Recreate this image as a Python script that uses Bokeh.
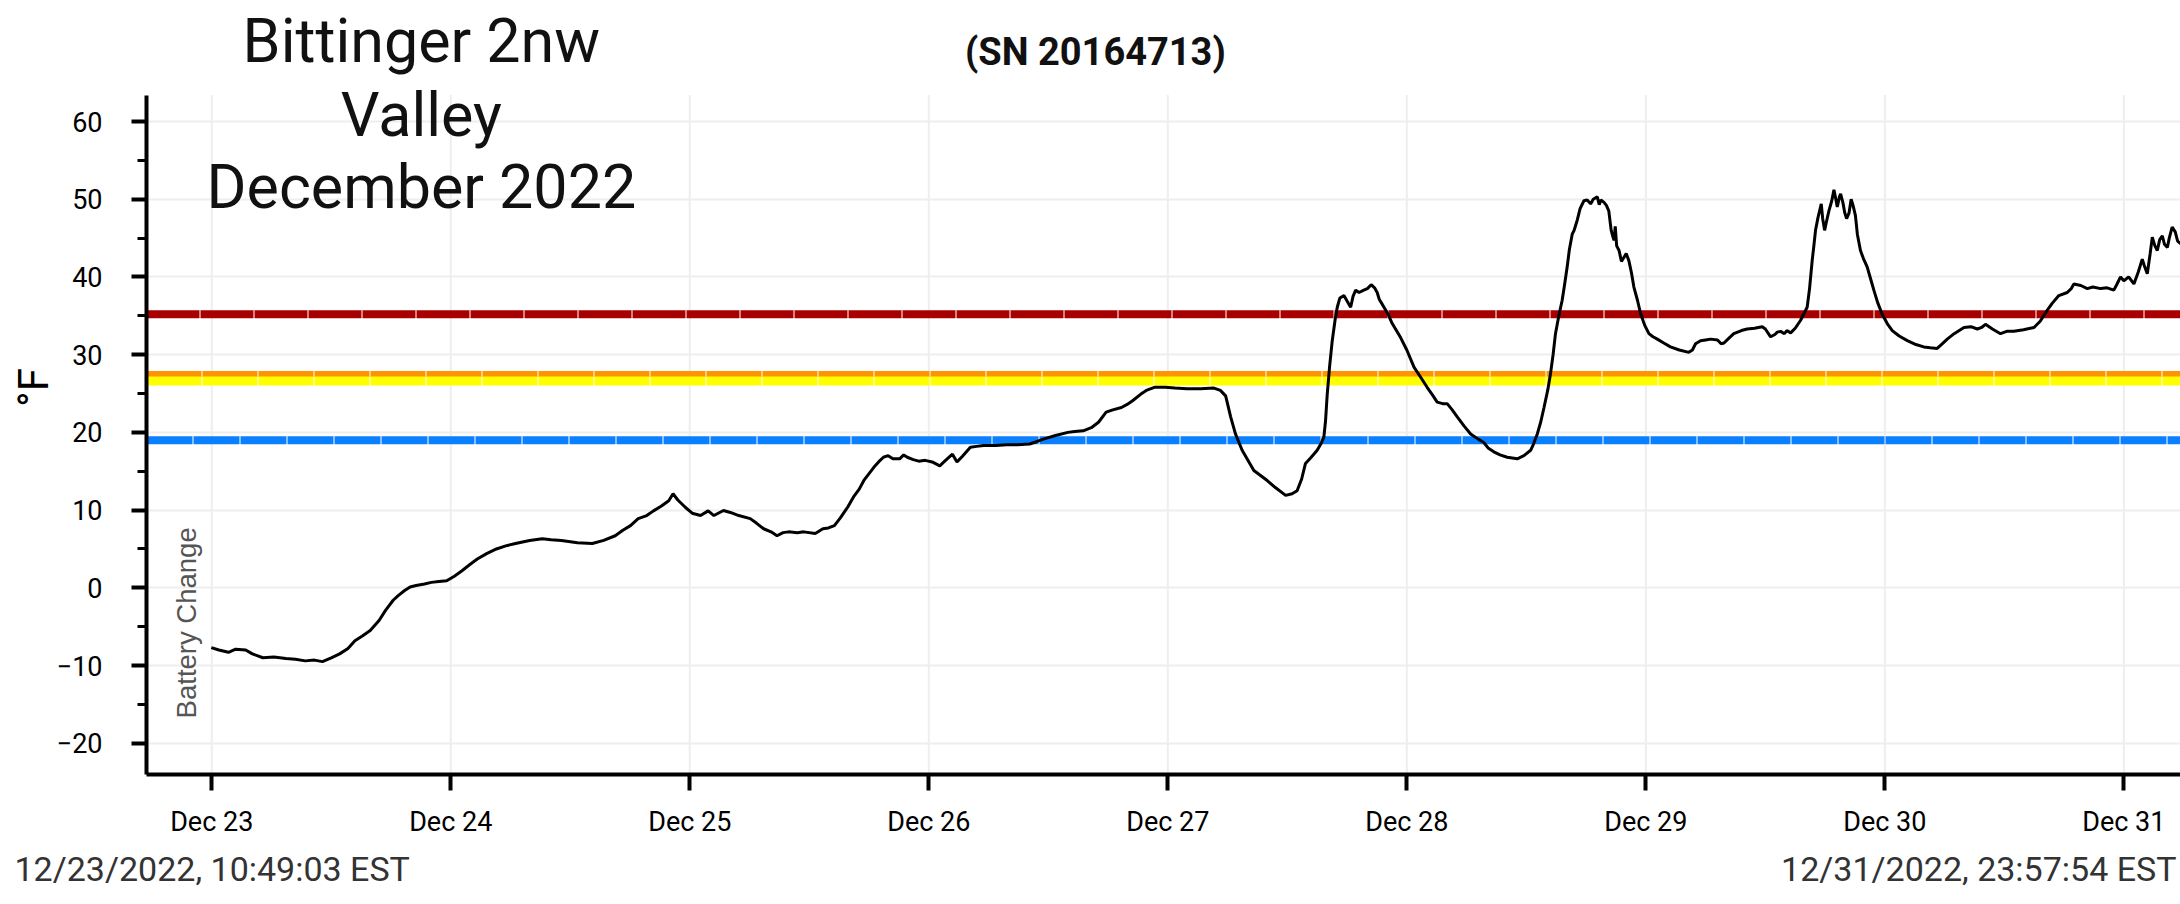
import math
from bokeh.plotting import figure
from bokeh.layouts import column
from bokeh.models import Range1d, FixedTicker, Span, Label
from bokeh.embed import file_html
from bokeh.resources import INLINE

# ---- data (day of December 2022, temperature in °F) ----
days = [22.998, 23.03, 23.07, 23.10, 23.142, 23.17, 23.214, 23.26, 23.31, 23.35, 23.391, 23.43, 23.463, 23.50,
        23.535, 23.57, 23.599, 23.63, 23.663, 23.70, 23.727, 23.759, 23.78, 23.807, 23.83, 23.855, 23.89, 23.919,
        23.95, 23.983, 24.015, 24.047, 24.08, 24.111, 24.15, 24.191, 24.23, 24.271, 24.33, 24.383, 24.42, 24.463,
        24.53, 24.592, 24.64, 24.688, 24.72, 24.752, 24.784, 24.82, 24.848, 24.88, 24.912, 24.93, 24.95, 24.98,
        25.01, 25.045, 25.077, 25.101, 25.141, 25.17, 25.205, 25.253, 25.28, 25.309, 25.34, 25.365, 25.39, 25.413,
        25.45, 25.477, 25.525, 25.557, 25.58, 25.605, 25.63, 25.661, 25.685, 25.709, 25.73, 25.750, 25.77, 25.790,
        25.81, 25.830, 25.85, 25.878, 25.895, 25.910, 25.935, 25.958, 25.985, 26.014, 26.046, 26.07, 26.099, 26.118,
        26.14, 26.174, 26.20, 26.230, 26.28, 26.326, 26.37, 26.422, 26.45, 26.486, 26.53, 26.582, 26.61, 26.646,
        26.68, 26.710, 26.742, 26.77, 26.806, 26.83, 26.854, 26.886, 26.91, 26.944, 26.99, 27.03, 27.08, 27.137,
        27.193, 27.22, 27.242, 27.263, 27.283, 27.311, 27.36, 27.416, 27.45, 27.493, 27.52, 27.541, 27.56, 27.576,
        27.60, 27.625, 27.64, 27.653, 27.66, 27.667, 27.677, 27.688, 27.70, 27.709, 27.72, 27.737, 27.75, 27.765,
        27.775, 27.786, 27.80, 27.820, 27.835, 27.851, 27.865, 27.876, 27.885, 27.897, 27.92, 27.939, 27.974, 28.00,
        28.030, 28.06, 28.085, 28.11, 28.127, 28.15, 28.169, 28.19, 28.211, 28.24, 28.267, 28.30, 28.322, 28.34,
        28.364, 28.39, 28.420, 28.462, 28.49, 28.518, 28.53, 28.546, 28.56, 28.574, 28.59, 28.601, 28.612, 28.622,
        28.636, 28.650, 28.66, 28.671, 28.68, 28.692, 28.70, 28.713, 28.725, 28.741, 28.755, 28.769, 28.78, 28.797,
        28.805, 28.812, 28.825, 28.835, 28.845, 28.855, 28.862, 28.867, 28.872, 28.878, 28.888, 28.898, 28.908,
        28.918, 28.929, 28.94, 28.950, 28.965, 28.978, 28.995, 29.013, 29.03, 29.048, 29.075, 29.103, 29.14, 29.180,
        29.195, 29.208, 29.229, 29.25, 29.271, 29.30, 29.315, 29.327, 29.35, 29.368, 29.40, 29.424, 29.455, 29.487,
        29.50, 29.522, 29.54, 29.55, 29.564, 29.58, 29.59, 29.606, 29.625, 29.647, 29.66, 29.675, 29.685, 29.696,
        29.703, 29.710, 29.72, 29.727, 29.734, 29.74, 29.748, 29.755, 29.766, 29.778, 29.787, 29.795, 29.801, 29.81,
        29.815, 29.825, 29.832, 29.840, 29.85, 29.859, 29.867, 29.877, 29.885, 29.898, 29.91, 29.926, 29.94, 29.954,
        29.97, 29.989, 30.01, 30.031, 30.06, 30.094, 30.13, 30.163, 30.19, 30.219, 30.24, 30.261, 30.29, 30.331,
        30.36, 30.387, 30.405, 30.421, 30.45, 30.484, 30.51, 30.540, 30.58, 30.624, 30.65, 30.679, 30.70, 30.728,
        30.763, 30.78, 30.791, 30.82, 30.847, 30.87, 30.903, 30.93, 30.958, 30.97, 30.986, 31.00, 31.02, 31.042,
        31.06, 31.077, 31.085, 31.098, 31.11, 31.119, 31.13, 31.140, 31.15, 31.161, 31.17, 31.182, 31.19, 31.202,
        31.215, 31.225, 31.237, 31.26]
temps = [-7.7, -8.0, -8.3, -7.9, -8.0, -8.5, -9.0, -8.9, -9.1, -9.2, -9.4, -9.3, -9.5, -9.0,
         -8.5, -7.8, -6.8, -6.2, -5.5, -4.2, -2.9, -1.6, -1.0, -0.35, 0.1, 0.3, 0.5, 0.7,
         0.8, 0.9, 1.5, 2.2, 3.0, 3.7, 4.4, 5.0, 5.4, 5.7, 6.1, 6.3, 6.2, 6.1,
         5.8, 5.7, 6.1, 6.7, 7.4, 8.0, 8.9, 9.3, 9.9, 10.5, 11.2, 12.1, 11.3, 10.4,
         9.6, 9.3, 9.9, 9.3, 9.95, 9.7, 9.3, 8.9, 8.3, 7.6, 7.2, 6.7, 7.1, 7.2,
         7.1, 7.2, 7.0, 7.6, 7.7, 8.0, 9.0, 10.4, 11.7, 12.7, 13.9, 14.7, 15.5, 16.2,
         16.8, 17.0, 16.6, 16.6, 17.1, 16.8, 16.5, 16.3, 16.4, 16.2, 15.7, 16.4, 17.2, 16.2,
         16.9, 18.1, 18.2, 18.3, 18.3, 18.4, 18.4, 18.5, 18.8, 19.2, 19.6, 20.0, 20.1, 20.2,
         20.6, 21.3, 22.6, 22.9, 23.2, 23.6, 24.1, 24.9, 25.4, 25.8, 25.8, 25.7, 25.6, 25.6,
         25.7, 25.4, 24.7, 22.0, 19.8, 17.7, 15.1, 13.8, 12.9, 11.9, 12.1, 12.5, 14.0, 16.0,
         16.8, 17.7, 18.5, 19.4, 21.5, 24.9, 28.5, 31.8, 34.5, 36.1, 37.3, 37.6, 36.9, 36.1,
         37.5, 38.3, 38.0, 38.3, 38.5, 39.0, 38.6, 38.0, 37.1, 36.5, 35.3, 34.0, 32.2, 30.6,
         28.4, 27.0, 25.8, 24.7, 23.9, 23.7, 23.7, 22.9, 22.0, 20.8, 19.8, 19.1, 18.7, 18.0,
         17.5, 17.1, 16.8, 16.6, 17.0, 17.7, 18.5, 19.8, 21.3, 23.2, 25.5, 27.5, 30.0, 32.7,
         35.0, 37.0, 39.0, 41.3, 43.5, 45.5, 46.0, 47.3, 48.8, 49.8, 49.9, 49.4, 50.0, 50.3,
         49.3, 49.9, 49.6, 49.2, 48.5, 46.0, 45.2, 44.7, 46.5, 44.0, 43.4, 42.0, 42.5,
         43.0, 42.1, 40.5, 38.7, 37.0, 35.3, 33.8, 32.7, 32.3, 32.0, 31.5, 31.0, 30.6, 30.3,
         30.6, 31.4, 31.8, 31.9, 32.0, 31.9, 31.4, 31.5, 32.2, 32.7, 33.1, 33.3, 33.4, 33.6,
         33.3, 32.3, 32.6, 32.9, 33.0, 32.7, 33.1, 32.8, 33.4, 34.4, 35.2, 36.1, 38.5, 42.1,
         44.0, 46.0, 47.6, 48.5, 49.4, 47.5, 46.0, 47.0, 48.5, 49.8, 51.2, 50.0, 49.0, 50.3,
         50.7, 49.5, 48.3, 47.5, 48.2, 50.0, 49.2, 47.9, 45.5, 43.4, 42.4, 41.3, 39.8, 38.3,
         36.7, 35.2, 34.0, 33.1, 32.4, 31.8, 31.3, 31.0, 30.9, 30.8, 31.4, 32.0, 32.7, 33.5,
         33.6, 33.3, 33.5, 33.9, 33.3, 32.7, 33.0, 33.0, 33.2, 33.5, 34.3, 35.7, 36.6, 37.6,
         38.0, 38.5, 39.1, 38.9, 38.5, 38.7, 38.5, 38.6, 38.3, 39.0, 40.0, 39.5, 40.0, 39.1,
         40.6, 42.3, 41.5, 40.4, 43.0, 45.1, 44.0, 43.4, 44.8, 45.3, 44.2, 43.8, 45.0, 46.4,
         45.8, 44.6, 44.3, 45.0]

threshold_values = [35.2, 27.5, 26.6, 19.0]
threshold_colors = ["#a80000", "#ff9300", "#ffff00", "#0a80ff"]
threshold_widths = [8, 6, 9, 8]
threshold_dashes = ["53 1", "55 1", "55 1", "46 1"]

x_ticks = [23, 24, 25, 26, 27, 28, 29, 30, 31]
x_tick_labels = ["Dec 23", "Dec 24", "Dec 25", "Dec 26", "Dec 27", "Dec 28", "Dec 29", "Dec 30", "Dec 31"]
y_ticks = [-20, -10, 0, 10, 20, 30, 40, 50, 60]
y_minor = [-25, -15, -5, 5, 15, 25, 35, 45, 55]
y_axis_bounds = (-24.02, 63.4)

title_lines = ["Bittinger 2nw", "Valley", "December 2022"]
serial_text = "(SN 20164713)"
start_text = "12/23/2022, 10:49:03 EST"
end_text = "12/31/2022, 23:57:54 EST"
event_text = "Battery Change"
event_day = 22.893

FONT = "Roboto"

p = figure(width=2180, height=848, output_backend="svg", toolbar_location=None,
           x_range=Range1d(22.727, 31.237), y_range=Range1d(-24.02, 75.57),
           min_border_left=146, min_border_right=0, min_border_top=0, min_border_bottom=74)
p.frame_align = False
p.outline_line_color = None
p.background_fill_color = "white"
p.border_fill_color = "white"

# grids
p.xgrid.visible = False
p.ygrid.ticker = FixedTicker(ticks=y_ticks)
p.ygrid.grid_line_color = "#eeeeee"
p.ygrid.grid_line_width = 2
p.segment(x0=x_ticks, y0=[y_axis_bounds[0]] * len(x_ticks), x1=x_ticks, y1=[y_axis_bounds[1]] * len(x_ticks),
          line_color="#eeeeee", line_width=2, level="underlay")

# x axis
xa = p.xaxis[0]
xa.ticker = FixedTicker(ticks=x_ticks)
xa.major_label_overrides = {t: l for t, l in zip(x_ticks, x_tick_labels)}
xa.axis_line_width = 4
xa.axis_line_color = "black"
xa.major_tick_line_width = 4
xa.major_tick_out = 16
xa.major_tick_in = 0
xa.minor_tick_line_color = None
xa.major_label_text_font = FONT
xa.major_label_text_font_size = "27px"
xa.major_label_text_color = "black"
xa.major_label_standoff = 15

# y axis
ya = p.yaxis[0]
ya.bounds = y_axis_bounds
ya.ticker = FixedTicker(ticks=y_ticks, minor_ticks=y_minor)
ya.axis_line_width = 4
ya.axis_line_color = "black"
ya.major_tick_line_width = 4
ya.major_tick_out = 15
ya.major_tick_in = 0
ya.minor_tick_line_width = 3
ya.minor_tick_out = 9
ya.minor_tick_in = 0
ya.major_label_text_font = FONT
ya.major_label_text_font_size = "27px"
ya.major_label_text_color = "black"
ya.major_label_standoff = 29
ya.axis_label = "°F"
ya.axis_label_text_font = FONT
ya.axis_label_text_font_size = "42px"
ya.axis_label_text_font_style = "normal"
ya.axis_label_text_color = "black"
ya.axis_label_standoff = -4

# threshold lines
for v, c, w, d in zip(threshold_values, threshold_colors, threshold_widths, threshold_dashes):
    p.add_layout(Span(location=v, dimension="width", line_color=c, line_width=w,
                      line_dash=d, level="underlay"))

# temperature trace
p.line(days, temps, line_color="black", line_width=3)

# event marker text
p.add_layout(Label(x=event_day, y=-16.8, text=event_text, angle=math.pi / 2,
                   text_align="left", text_baseline="middle", text_font="Liberation Sans",
                   text_font_size="27.5px", text_color="#555555"))

# title lines
for txt, yy in zip(title_lines, [70.3, 60.9, 51.6]):
    p.add_layout(Label(x=23.877, y=yy, text=txt, text_align="center", text_baseline="alphabetic",
                       text_font=FONT, text_font_size="61px", text_color="#111111"))

p.add_layout(Label(x=26.697, y=69.0, text=serial_text, text_align="center", text_baseline="alphabetic",
                   text_font=FONT, text_font_size="38px", text_font_style="bold", text_color="#111111"))

# footer strip with the first / last timestamps
f = figure(width=2180, height=56, output_backend="svg", toolbar_location=None,
           x_axis_location=None, y_axis_location=None,
           x_range=Range1d(0, 2180), y_range=Range1d(0, 56),
           min_border_left=0, min_border_right=0, min_border_top=0, min_border_bottom=0)
f.frame_align = False
f.grid.visible = False
f.outline_line_color = None
f.add_layout(Label(x=14, y=36, text=start_text, text_align="left", text_baseline="alphabetic",
                   text_font=FONT, text_font_size="34px", text_color="#333333"))
f.add_layout(Label(x=2176, y=36, text=end_text, text_align="right", text_baseline="alphabetic",
                   text_font=FONT, text_font_size="34px", text_color="#333333"))

layout = column(p, f, spacing=0)
open("out.html", "w").write(file_html(layout, INLINE))
